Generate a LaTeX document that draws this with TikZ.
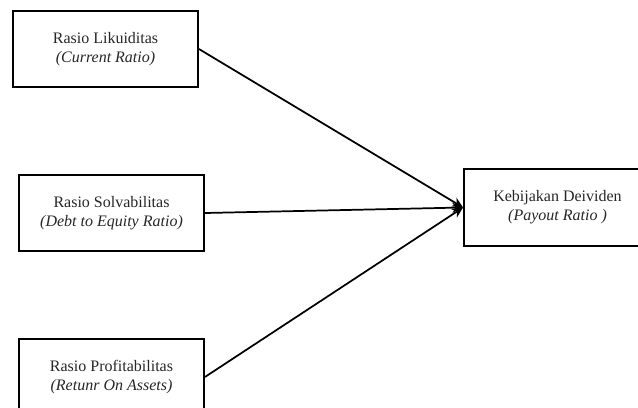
\documentclass[tikz,border=0pt]{standalone}
\usepackage{fontspec}
\setmainfont{Liberation Serif}
\usetikzlibrary{arrows.meta}

\tikzset{
  varbox/.style={draw, line width=1.4pt, align=center, text=black!85,
    font=\fontsize{12}{14.5}\selectfont, minimum width=138.75pt, minimum height=57pt, inner sep=0pt},
  panah/.style={line width=1.3pt, -{Stealth[length=8pt,width=7.5pt]}}
}

\begin{document}
\begin{tikzpicture}[x=0.75pt,y=0.75pt,yscale=-1,xscale=1]
\path [use as bounding box] (0,0) rectangle (638,407);
\clip (0,0) rectangle (638,407);

%Shape: Rectangle
\node [varbox] (likuid) at (105.5,49) {Rasio Likuiditas\\\textit{(Current Ratio)}};
%Shape: Rectangle
\node [varbox] (solva) at (111.5,213) {Rasio Solvabilitas\\\textit{(Debt to Equity Ratio)}};
%Shape: Rectangle
\node [varbox] (profit) at (111.5,377) {Rasio Profitabilitas\\\textit{(Retunr On Assets)}};
%Shape: Rectangle
\node [varbox, minimum width=140.25pt, minimum height=57.75pt] (dividen) at (557.5,207.5) {Kebijakan Deividen\\\textit{(Payout Ratio )}};

%Straight Lines
\draw [panah] (likuid.east) -- (dividen.west);
%Straight Lines
\draw [panah] (solva.east) -- (dividen.west);
%Straight Lines
\draw [panah] (profit.east) -- (dividen.west);

\end{tikzpicture}
\end{document}
